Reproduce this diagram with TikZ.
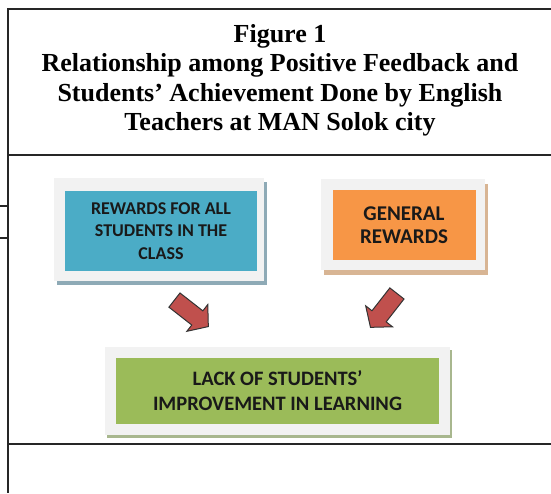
\documentclass[tikz,border=0pt]{standalone}
\usepackage{fontspec}
\setmainfont{Liberation Serif}
\newfontfamily\boxfont{Carlito}
\usetikzlibrary{shadows}

\definecolor{rewblue}{HTML}{4BACC6}
\definecolor{reworange}{HTML}{F79646}
\definecolor{lackgreen}{HTML}{9BBB59}
\definecolor{panelgray}{HTML}{F2F2F2}
\definecolor{arrowred}{HTML}{C0504D}
\definecolor{shblue}{HTML}{8EAAB6}
\definecolor{shorange}{HTML}{D8B594}
\definecolor{shgreen}{HTML}{A8B78E}

\tikzset{
  tablerule/.style={line width=1.6pt, black!85},
  panel/.style={fill=panelgray, draw=none, inner sep=0pt},
  cardbox/.style={draw=none, inner sep=0pt, align=center, text=black!90},
  blockarrow/.style={fill=arrowred, draw=black!80, line width=1pt, line join=miter},
}

\begin{document}
\begin{tikzpicture}[x=1pt, y=-1pt]
\useasboundingbox (0,0) rectangle (551,493);

% table rules
\draw[tablerule] (8,9) -- (551,9);
\draw[tablerule] (8,8) -- (8,493);
\draw[tablerule] (8,155) -- (551,155);
\draw[tablerule] (8,444) -- (551,444);
\draw[tablerule] (0,206) -- (8,206);
\draw[tablerule] (0,238) -- (8,238);

% title
\node[align=center, font=\fontsize{26}{29.5}\selectfont\bfseries] (title) at (280,80.5)
  {Figure 1\\Relationship among Positive Feedback and\\Students’ Achievement Done by English\\Teachers at MAN Solok city};

% cards: light panel with drop shadow, coloured box with the label
\node[panel, minimum width=210, minimum height=103,
      drop shadow={shadow xshift=2.5pt, shadow yshift=-4pt, fill=shblue, opacity=1}]
  (p1) at (159,229.5) {};
\node[cardbox, fill=rewblue, minimum width=192, minimum height=80,
      font=\boxfont\bfseries\fontsize{18}{22.5}\selectfont] (rewall) at (161,231)
  {REWARDS FOR ALL\\STUDENTS IN THE\\CLASS};

\node[panel, minimum width=164, minimum height=91,
      drop shadow={shadow xshift=2.5pt, shadow yshift=-4.5pt, fill=shorange, opacity=1}]
  (p2) at (403,224.5) {};
\node[cardbox, fill=reworange, minimum width=143, minimum height=70,
      font=\boxfont\bfseries\fontsize{21}{23.5}\selectfont] (genrew) at (404,225)
  {GENERAL\\REWARDS};

\node[panel, minimum width=345, minimum height=88,
      drop shadow={shadow xshift=2pt, shadow yshift=-3pt, fill=shgreen, opacity=1}]
  (p3) at (277.5,391) {};
\node[cardbox, fill=lackgreen, minimum width=323, minimum height=66,
      font=\boxfont\bfseries\fontsize{20.5}{25}\selectfont] (lack) at (277.5,391)
  {LACK OF STUDENTS’\\IMPROVEMENT IN LEARNING};

% block arrows leading into the green box
\coordinate (arrL) at (191,313);
\coordinate (arrR) at (384,310);
\foreach \c/\ang in {arrL/-38, arrR/-128}{
  \draw[blockarrow, shift={(\c)}, rotate=\ang]
    (-21,-9) -- (8,-9) -- (8,-17) -- (22,0) -- (8,17) -- (8,9) -- (-21,9) -- cycle;
}
\end{tikzpicture}
\end{document}
